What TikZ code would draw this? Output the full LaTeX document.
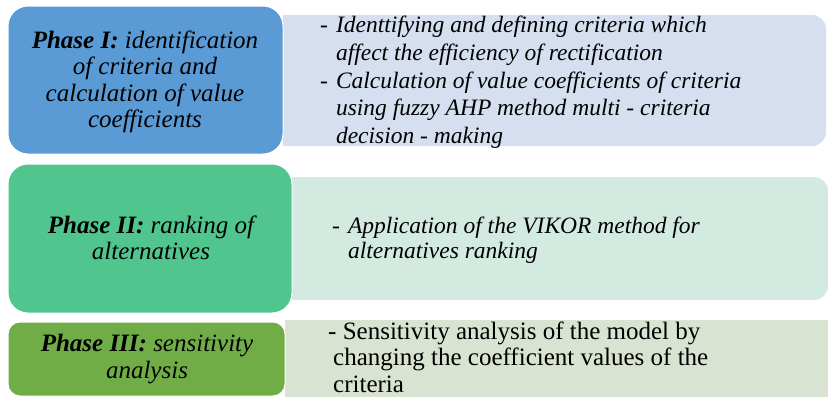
\documentclass[tikz,border=0pt]{standalone}
\usepackage{fontspec}
\setmainfont{Liberation Serif}
\definecolor{pa}{HTML}{5B9BD5}
\definecolor{pal}{HTML}{D5DFEF}
\definecolor{pb}{HTML}{50C58D}
\definecolor{pbl}{HTML}{D3EAE0}
\definecolor{pc}{HTML}{70AD47}
\definecolor{pcl}{HTML}{D9E3D2}
\tikzset{
  phasebox/.style={draw=white, line width=1pt, inner sep=0pt},
  phasetxt/.style={align=center, inner sep=0pt, font=\fontsize{25}{26.5}\selectfont\itshape},
  desctxt/.style={align=left, inner sep=0pt, anchor=base west, font=\fontsize{23.5}{27.5}\selectfont\itshape},
}
\begin{document}
\begin{tikzpicture}[x=1pt,y=-1pt]
\useasboundingbox (0,0) rectangle (828,397);
% right description panels
\fill[pal] (283,15) [rounded corners=14] -- (826,15) -- (826,146) [sharp corners] -- (283,146) -- cycle;
\fill[pbl] (292,177) [rounded corners=14] -- (828,177) -- (828,300) [sharp corners] -- (292,300) -- cycle;
\fill[pcl] (285,320) -- (828,320) -- (828,397) -- (285,397) -- cycle;
% left phase boxes
\filldraw[phasebox, fill=pa, rounded corners=20] (8,6) rectangle (283,154);
\filldraw[phasebox, fill=pb, rounded corners=20] (8,164) rectangle (292,313);
\filldraw[phasebox, fill=pc, rounded corners=12] (8,322) rectangle (285,396);
% phase texts
\node[phasetxt] (t1) at (145,82) {\textbf{Phase I:} identification\\of criteria and\\calculation of value\\coefficients};
\node[phasetxt] (t2) at (151,238) {\textbf{Phase II:} ranking of\\alternatives};
\node[phasetxt] (t3) at (147,359) {\textbf{Phase III:} sensitivity\\analysis};
% descriptions (anchor = baseline of last line)
\node[desctxt] (d1a) at (320,60) {-\hspace{8pt}Identtifying and defining criteria which\\\phantom{-}\hspace{8pt}affect the efficiency of rectification};
\node[desctxt] (d1b) at (320,143) {-\hspace{8pt}Calculation of value coefficients of criteria\\\phantom{-}\hspace{8pt}using fuzzy AHP method multi - criteria\\\phantom{-}\hspace{8pt}decision - making};
\node[desctxt, font=\fontsize{23.5}{25}\selectfont\itshape] (d2) at (332,258) {-\hspace{8pt}Application of the VIKOR method for\\\phantom{-}\hspace{8pt}alternatives ranking};
\node[desctxt, font=\fontsize{25}{26.5}\selectfont] (d3) at (328,392) {- Sensitivity analysis of the model by\\\hspace{5pt}changing the coefficient values of the\\\hspace{5pt}criteria};
\end{tikzpicture}
\end{document}
